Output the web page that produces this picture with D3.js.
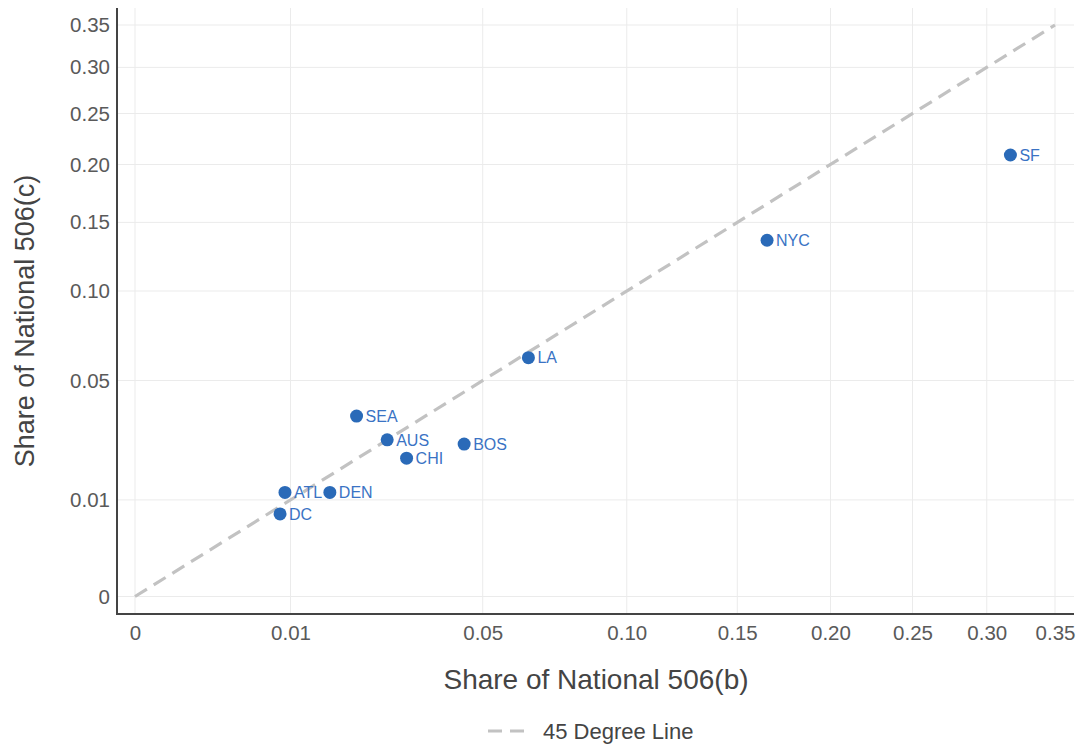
<!DOCTYPE html>
<html>
<head>
<meta charset="utf-8">
<script src="https://cdn.jsdelivr.net/npm/d3@7"></script>
<style>
  body { margin: 0; background: #fff; }
  text { font-family: "Liberation Sans", Arial, sans-serif; }
</style>
</head>
<body>
<svg id="chart" width="1084" height="748"></svg>
<script>
// City labels and their shares
const cities = ["SF", "NYC", "LA", "BOS", "CHI", "AUS", "SEA", "DEN", "ATL", "DC"];
const shareB = [0.3169, 0.1652, 0.0640, 0.0448, 0.0305, 0.0263, 0.0203, 0.0157, 0.0093, 0.0087];
const shareC = [0.2089, 0.1360, 0.0611, 0.0249, 0.0205, 0.0263, 0.0349, 0.0116, 0.0116, 0.0073];
const xTicks = [0, 0.01, 0.05, 0.10, 0.15, 0.20, 0.25, 0.30, 0.35];
const yTicks = [0, 0.01, 0.05, 0.10, 0.15, 0.20, 0.25, 0.30, 0.35];
const diagonal = [0, 0.35];

const points = cities.map((c, i) => ({ name: c, x: shareB[i], y: shareC[i] }));

const svg = d3.select("#chart");

// plot frame
const frame = { left: 117, right: 1074, top: 8, bottom: 614 };

// sqrt scales
const x = d3.scaleSqrt().domain([0, 0.35]).range([135, 1055]);
const y = d3.scaleSqrt().domain([0, 0.35]).range([596.5, 25]);

const fmt = (d) => (d === 0 ? "0" : d.toFixed(2));

// gridlines
svg.append("g")
  .selectAll("line")
  .data(xTicks)
  .enter()
  .append("line")
  .attr("x1", (d) => x(d))
  .attr("x2", (d) => x(d))
  .attr("y1", frame.top)
  .attr("y2", frame.bottom)
  .attr("stroke", "#ebebeb")
  .attr("stroke-width", 1);

svg.append("g")
  .selectAll("line")
  .data(yTicks)
  .enter()
  .append("line")
  .attr("x1", frame.left)
  .attr("x2", frame.right)
  .attr("y1", (d) => y(d))
  .attr("y2", (d) => y(d))
  .attr("stroke", "#ebebeb")
  .attr("stroke-width", 1);

// x axis
const xAxis = svg.append("g")
  .attr("transform", "translate(0," + frame.bottom + ")")
  .call(d3.axisBottom(x).tickValues(xTicks).tickFormat(fmt).tickSize(0).tickPadding(11));
xAxis.select(".domain").remove();
xAxis.selectAll("text")
  .attr("fill", "#5a5a5a")
  .style("font-size", "20.5px");

// y axis
const yAxis = svg.append("g")
  .attr("transform", "translate(" + frame.left + ",0)")
  .call(d3.axisLeft(y).tickValues(yTicks).tickFormat(fmt).tickSize(0).tickPadding(7));
yAxis.select(".domain").remove();
yAxis.selectAll("text")
  .attr("fill", "#5a5a5a")
  .style("font-size", "20.5px");

// axis lines
svg.append("line")
  .attr("x1", frame.left).attr("x2", frame.left)
  .attr("y1", frame.top).attr("y2", frame.bottom + 1)
  .attr("stroke", "#444").attr("stroke-width", 2);
svg.append("line")
  .attr("x1", frame.left - 1).attr("x2", frame.right)
  .attr("y1", frame.bottom).attr("y2", frame.bottom)
  .attr("stroke", "#444").attr("stroke-width", 2);

// 45 degree line
svg.append("line")
  .attr("x1", x(diagonal[0]))
  .attr("y1", y(diagonal[0]))
  .attr("x2", x(diagonal[1]))
  .attr("y2", y(diagonal[1]))
  .attr("stroke", "#c2c2c2")
  .attr("stroke-width", 3.2)
  .attr("stroke-dasharray", "14,8");

// points
svg.append("g")
  .selectAll("circle")
  .data(points)
  .enter()
  .append("circle")
  .attr("cx", (d) => x(d.x))
  .attr("cy", (d) => y(d.y))
  .attr("r", 6.5)
  .attr("fill", "#2a6ab8");

svg.append("g")
  .selectAll("text")
  .data(points)
  .enter()
  .append("text")
  .attr("x", (d) => x(d.x) + 9)
  .attr("y", (d) => y(d.y))
  .attr("dy", "0.36em")
  .attr("fill", "#3a73c4")
  .style("font-size", "16px")
  .text((d) => d.name);

// axis titles
svg.append("text")
  .attr("x", 596)
  .attr("y", 689)
  .attr("text-anchor", "middle")
  .attr("fill", "#444")
  .style("font-size", "28px")
  .text("Share of National 506(b)");

svg.append("text")
  .attr("transform", "translate(34,321) rotate(-90)")
  .attr("text-anchor", "middle")
  .attr("fill", "#444")
  .style("font-size", "27px")
  .text("Share of National 506(c)");

// legend
svg.append("line")
  .attr("x1", 488).attr("x2", 528)
  .attr("y1", 731).attr("y2", 731)
  .attr("stroke", "#c2c2c2")
  .attr("stroke-width", 3.2)
  .attr("stroke-dasharray", "14,8");
svg.append("text")
  .attr("x", 543)
  .attr("y", 731)
  .attr("dy", "0.36em")
  .attr("fill", "#444")
  .style("font-size", "22px")
  .text("45 Degree Line");
</script>
</body>
</html>
